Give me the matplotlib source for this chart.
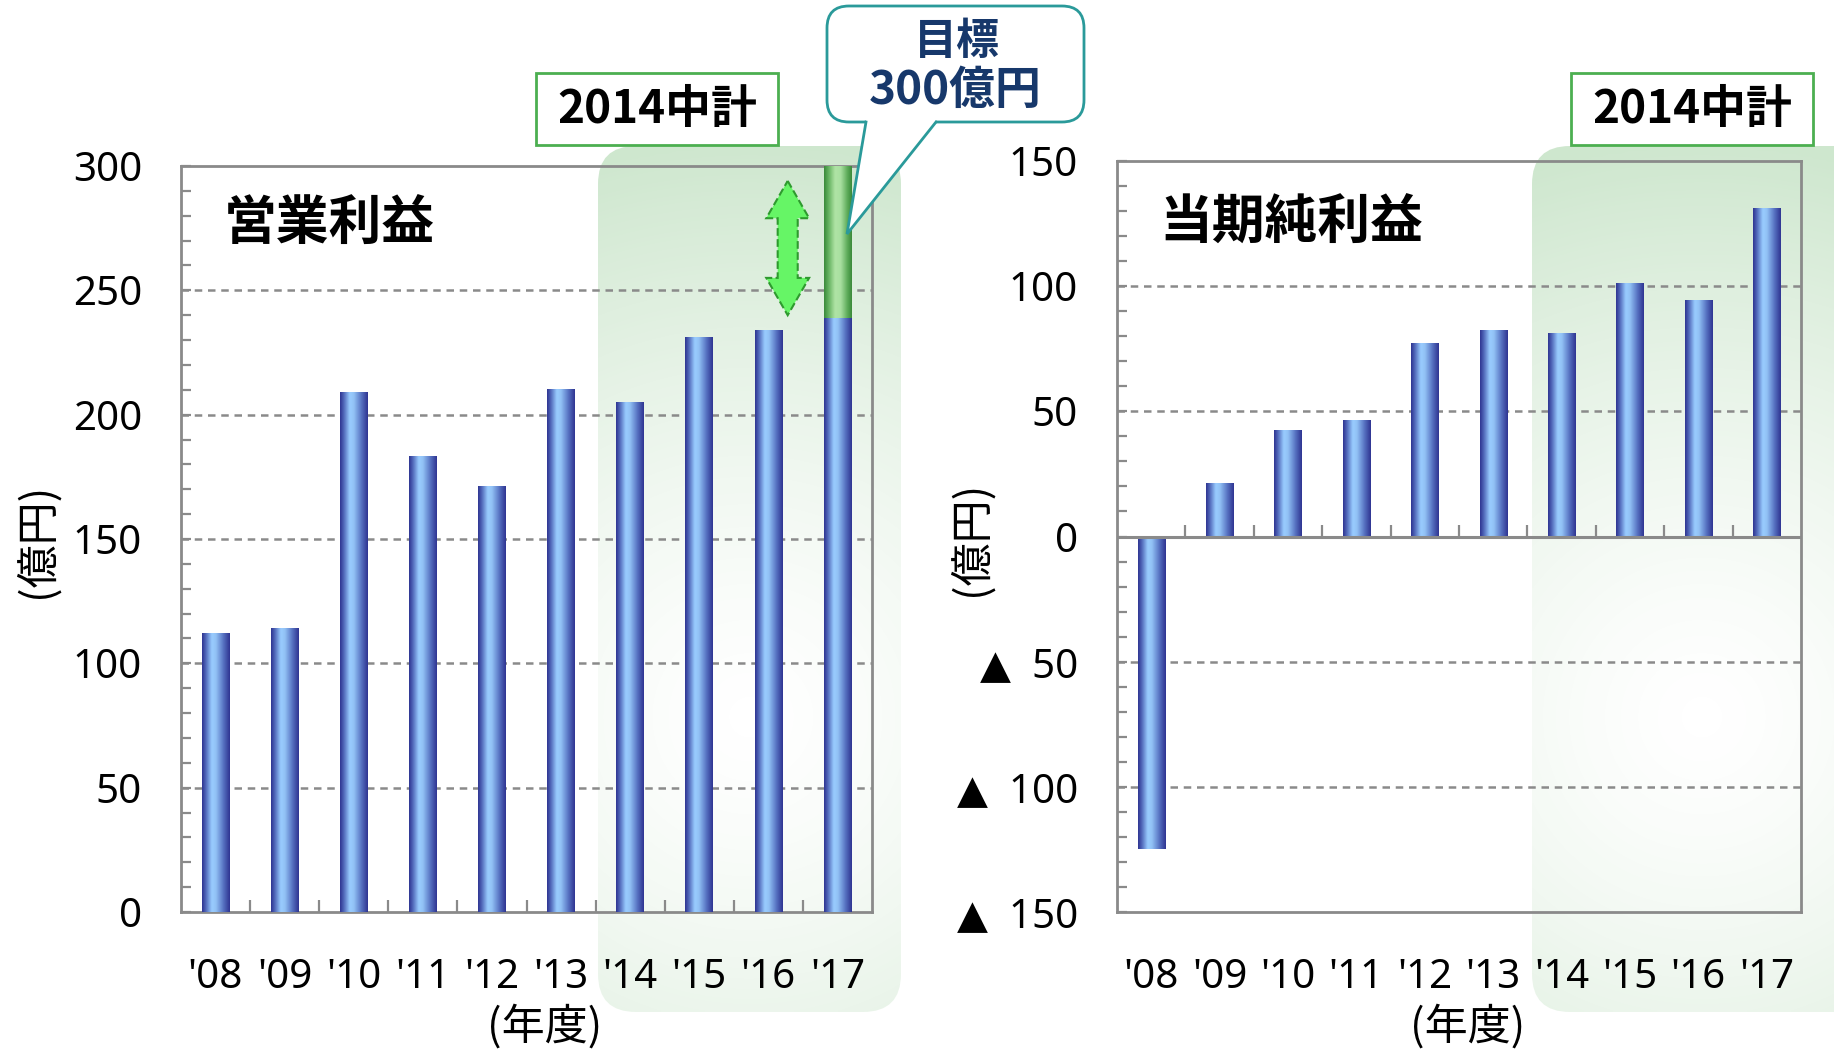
import numpy as np
import matplotlib.pyplot as plt
import matplotlib.patches as mpatches
from matplotlib.colors import LinearSegmentedColormap

# data (units: 億円)
years = ["'08", "'09", "'10", "'11", "'12", "'13", "'14", "'15", "'16", "'17"]
op_profit = [112, 114, 209, 183, 171, 210, 205, 231, 234, 239]
op_target = 300
net_profit = [-125, 21, 42, 46, 77, 82, 81, 101, 94, 131]

left_yticks = [0, 50, 100, 150, 200, 250, 300]
right_yticks = [-150, -100, -50, 0, 50, 100, 150]
right_ylabels = ['▲  150', '▲  100', '▲  50', '0', '50', '100', '150']

JP = 'Noto Sans CJK JP'
NUM = ['Noto Sans', 'DejaVu Sans']
GREY = '#8a8a8a'

W, H = 1834, 1054
fig = plt.figure(figsize=(W / 100, H / 100), dpi=100)

blue_cm = LinearSegmentedColormap.from_list('bar', [
    (0.0, '#2f3592'), (0.12, '#4d63b6'), (0.35, '#99ccff'),
    (0.5, '#92c2f5'), (0.75, '#5b78c6'), (1.0, '#2f3592')])
green_cm = LinearSegmentedColormap.from_list('tgt', [
    (0.0, '#3b8a3b'), (0.15, '#62b05e'), (0.4, '#b0e4a6'),
    (0.6, '#a8dfa0'), (0.85, '#5caa58'), (1.0, '#3b8a3b')])
grad = np.linspace(0, 1, 64).reshape(1, -1)

# background layer for the 2014 plan shading
bg = fig.add_axes([0, 0, 1, 1], zorder=-1)


def green_panel(x0, y0, w, h):
    patch = mpatches.FancyBboxPatch((x0, y0), w, h,
                                    boxstyle='round,pad=0,rounding_size=38',
                                    fc='none', ec='none')
    bg.add_patch(patch)
    yy, xx = np.mgrid[0:1:300j, 0:1:150j]
    d = np.sqrt(((xx - 0.5) * w) ** 2 + ((yy - 0.66) * h) ** 2) / (0.66 * h)
    img = np.zeros((300, 150, 4))
    img[..., 0] = 0.55
    img[..., 1] = 0.78
    img[..., 2] = 0.55
    img[..., 3] = 0.42 * np.clip(d, 0, 1) ** 1.4
    im = bg.imshow(img, extent=(x0, x0 + w, y0 + h, y0), origin='upper',
                   aspect='auto', zorder=1, interpolation='bilinear')
    im.set_clip_path(patch)


green_panel(598, 146, 303, 866)
green_panel(1532, 146, 340, 866)
bg.set_xlim(0, W)
bg.set_ylim(H, 0)
bg.axis('off')


def gradient_bars(ax, bars, cmap):
    for p in bars:
        x0, w = p.get_x(), p.get_width()
        y0, h = p.get_y(), p.get_height()
        ax.imshow(grad, extent=(x0, x0 + w, y0, y0 + h), aspect='auto',
                  cmap=cmap, zorder=3, interpolation='bicubic')


def setup(ax, ylim, yticks, ylabels):
    ax.set_facecolor('none')
    ax.set_xlim(-0.5, len(years) - 0.5)
    ax.set_ylim(*ylim)
    ax.set_xticks(range(len(years)))
    ax.set_xticklabels(years, fontsize=29, family=NUM)
    ax.tick_params(axis='x', which='major', length=0, pad=33)
    ax.set_yticks(yticks)
    ax.set_yticklabels(ylabels, fontsize=29, family=NUM)
    ax.set_yticks(np.arange(ylim[0], ylim[1], 10), minor=True)
    ax.tick_params(axis='y', which='both', direction='in', length=7,
                   width=1.6, color=GREY, pad=28)
    for v in yticks[1:-1]:
        if v != 0:
            ax.axhline(v, ls=(0, (3, 2.3)), color=GREY, lw=1.8, zorder=1)
    for s in ax.spines.values():
        s.set_color(GREY)
        s.set_linewidth(2)


# 営業利益
axl = fig.add_axes([181 / W, 1 - 912 / H, 691 / W, 746 / H])
x = np.arange(len(years))
bl = axl.bar(x, op_profit, width=0.4, color='none', edgecolor='none')
gradient_bars(axl, bl, blue_cm)
bt = axl.bar(x[-1], op_target - op_profit[-1], bottom=op_profit[-1],
             width=0.4, color='none', edgecolor='none')
gradient_bars(axl, bt, green_cm)
setup(axl, (0, 300), left_yticks, [str(v) for v in left_yticks])
axl.set_xticks(np.arange(0.5, len(years) - 1, 1), minor=True)
axl.tick_params(axis='x', which='minor', direction='in', length=9,
                width=1.6, color=GREY)
axl.text(0.062, 0.922, '営業利益', transform=axl.transAxes, fontsize=38,
         weight='bold', va='center', family=JP)

# double arrow between '17 actual and target
xc, lo, hi = 8.28, op_profit[-1] + 1, op_target - 6
hw, sw, hl = 0.31, 0.145, 15
arrow = mpatches.Polygon([
    (xc, hi), (xc + hw, hi - hl), (xc + sw, hi - hl), (xc + sw, lo + hl),
    (xc + hw, lo + hl), (xc, lo), (xc - hw, lo + hl), (xc - sw, lo + hl),
    (xc - sw, hi - hl), (xc - hw, hi - hl)],
    closed=True, fc='#66f566', ec='#2e9a2e', ls='--', lw=1.5, zorder=6)
axl.add_patch(arrow)

# 当期純利益
axr = fig.add_axes([1117 / W, 1 - 912 / H, 684 / W, 751 / H])
br = axr.bar(x, net_profit, width=0.4, color='none', edgecolor='none')
gradient_bars(axr, br, blue_cm)
setup(axr, (-150, 150), right_yticks, right_ylabels)
axr.axhline(0, color=GREY, lw=2.2, zorder=4)
axr.vlines(np.arange(0.5, len(years) - 1, 1), 0.5, 0.5 + 12 / 751,
           transform=axr.get_xaxis_transform(), color=GREY, lw=1.6, zorder=4)
axr.text(0.062, 0.917, '当期純利益', transform=axr.transAxes, fontsize=38,
         weight='bold', va='center', family=JP)

# axis captions
fig.text(37 / W, 1 - 540 / H, '(億円)', rotation=90, ha='center',
         va='center', fontsize=31, family=JP)
fig.text(971 / W, 1 - 538 / H, '(億円)', rotation=90, ha='center',
         va='center', fontsize=31, family=JP)
fig.text(545 / W, 1 - 1027 / H, '(年度)', ha='center', va='center',
         fontsize=31, family=JP)
fig.text(1468 / W, 1 - 1027 / H, '(年度)', ha='center', va='center',
         fontsize=31, family=JP)

# overlay: labels and callout
ov = fig.add_axes([0, 0, 1, 1], zorder=10)
ov.patch.set_alpha(0)

for bx in (536, 1571):
    ov.add_patch(mpatches.Rectangle((bx, 73), 242, 72, fc='white',
                                    ec='#4caf50', lw=2, zorder=3))
    ov.text(bx + 121, 110, '2014中計', ha='center', va='center',
            fontsize=33, weight='bold', family=JP, zorder=4)

ov.add_patch(mpatches.FancyBboxPatch((827, 6), 257, 116,
                                     boxstyle='round,pad=0,rounding_size=22',
                                     fc='white', ec='#2a9a9a', lw=2, zorder=3))
tail = [(866, 122), (847, 234), (936, 122)]
ov.add_patch(mpatches.Polygon([(866, 120)] + tail[1:] + [(936, 120)],
                              closed=True, fc='white', ec='none', zorder=4))
ov.plot([p[0] for p in tail], [p[1] for p in tail], color='#2a9a9a',
        lw=2, zorder=5, solid_joinstyle='miter')
ov.text(957, 41, '目標', ha='center', va='center', fontsize=31,
        weight='bold', color='#17386b', family=JP, zorder=6)
ov.text(955, 91, '300億円', ha='center', va='center', fontsize=33,
        weight='bold', color='#17386b', family=JP, zorder=6)

ov.set_xlim(0, W)
ov.set_ylim(H, 0)
ov.axis('off')

fig.savefig('out.png', dpi=100)
